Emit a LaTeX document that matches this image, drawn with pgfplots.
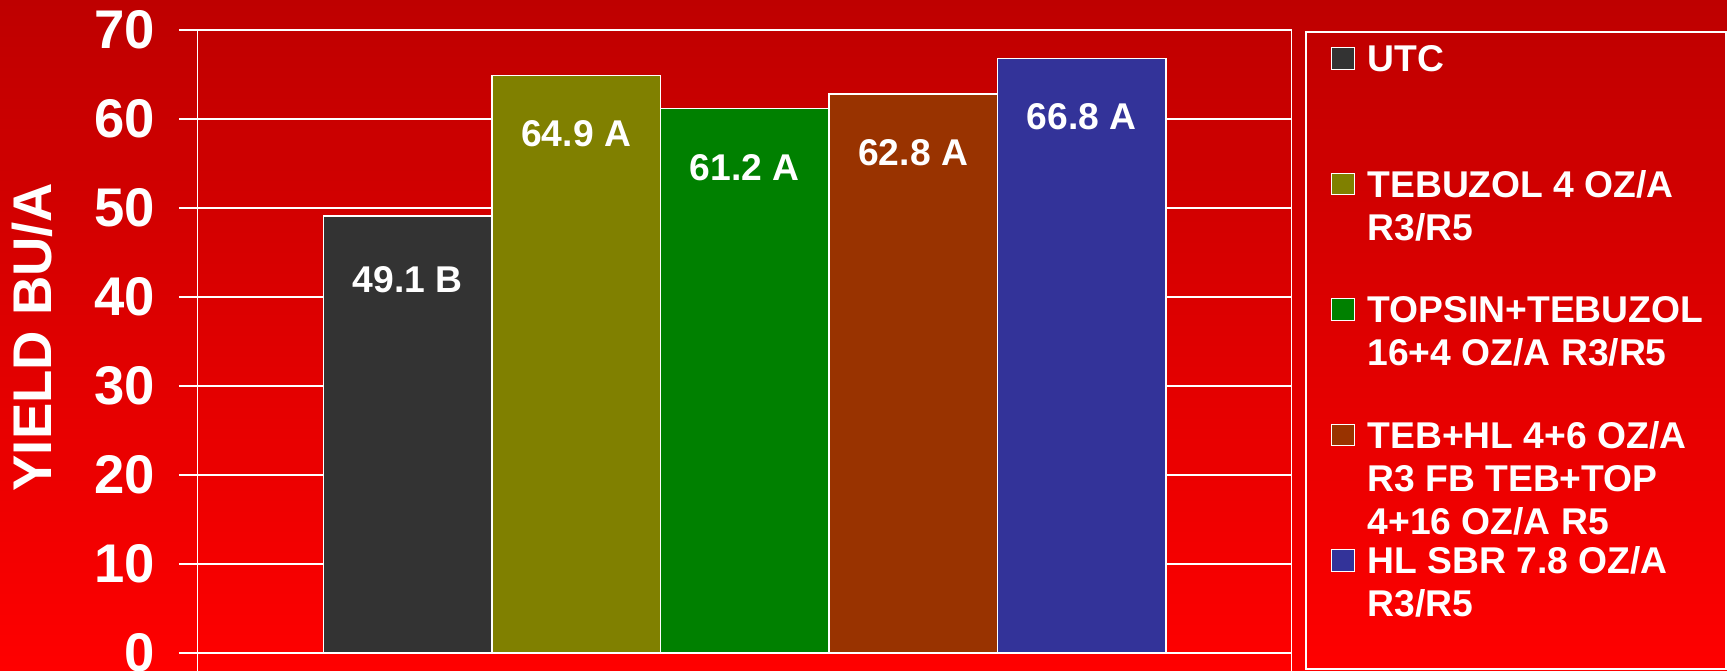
\documentclass[border=0pt]{standalone}
\usepackage{pgfplots}
\pgfplotsset{compat=1.18}
\usepackage{fontspec}
\setmainfont{Liberation Sans}

\definecolor{bgtop}{RGB}{190,0,0}
\definecolor{bgbot}{RGB}{255,0,0}
\definecolor{cutc}{HTML}{333333}
\definecolor{ctebu}{HTML}{808000}
\definecolor{ctops}{HTML}{008000}
\definecolor{cteb}{HTML}{993300}
\definecolor{chl}{HTML}{333399}

% legend text: fixed-height box, baseline on the first line
\newcommand{\lentry}[2][12.55mm]{\parbox[t][#1][t]{33.3mm}{\strut #2}}

\begin{document}
\begin{tikzpicture}
\useasboundingbox (0,0) rectangle (172.7mm,67.1mm);
\shade[top color=bgtop, bottom color=bgbot] (0,0) rectangle (172.7mm,67.1mm);
\begin{axis}[
    at={(19.77mm,-0.425mm)}, anchor=south west,
    scale only axis, width=109.38mm, height=64.525mm,
    ymin=-2.5, ymax=70, ytick={0,10,...,70},
    xmin=-1, xmax=1, xtick=\empty,
    ybar=0pt, bar width=16.85mm,
    ymajorgrids, grid style={white, line width=0.15mm},
    axis line style={white, line width=0.15mm},
    ytick pos=left, tick align=outside, major tick length=1.87mm,
    tick style={white, line width=0.15mm},
    /pgf/number format/assume math mode=true,
    yticklabel style={font=\fontsize{15.5}{18}\selectfont\bfseries, text=white,
        inner sep=0pt, xshift=-2.3mm},
    ylabel={YIELD BU/A},
    ylabel style={font=\fontsize{15.5}{18}\selectfont\bfseries, text=white,
        at={(axis description cs:-0.1516,0.524)}, anchor=center},
    point meta=explicit symbolic,
    nodes near coords,
    every node near coord/.append style={font=\fontsize{10.6}{12}\selectfont\bfseries, text=white},
    legend style={at={(axis description cs:1.0120,0.9985)}, anchor=north west,
        draw=white, line width=0.2mm, fill=none,
        inner xsep=2.5mm, inner ysep=0.95mm, column sep=1.29mm, row sep=0pt,
        text=white, font=\fontsize{10.6}{12.24}\selectfont\bfseries,
        nodes={inner sep=0pt, text depth={}, anchor=base west},
        cells={anchor=base west}},
    legend image code/.code={\draw[#1, line width=0.1mm] (0mm,0.21mm) rectangle (2.3mm,2.36mm);},
]
\addplot[fill=cutc, draw=white, line width=0.15mm,
    every node near coord/.append style={anchor=base, yshift=-7.7mm}]
    coordinates {(0,49.1) [49.1 B]};
\addplot[fill=ctebu, draw=white, line width=0.15mm,
    every node near coord/.append style={anchor=base, yshift=-7.1mm}]
    coordinates {(0,64.9) [64.9 A]};
\addplot[fill=ctops, draw=white, line width=0.15mm,
    every node near coord/.append style={anchor=base, yshift=-7.2mm}]
    coordinates {(0,61.2) [61.2 A]};
\addplot[fill=cteb, draw=white, line width=0.15mm,
    every node near coord/.append style={anchor=base, yshift=-7.1mm}]
    coordinates {(0,62.8) [62.8 A]};
\addplot[fill=chl, draw=white, line width=0.15mm,
    every node near coord/.append style={anchor=base, yshift=-7.1mm}]
    coordinates {(0,66.8) [66.8 A]};
\legend{
    \lentry{UTC},
    \lentry{\mbox{TEBUZOL 4 OZ/A}\\\mbox{R3/R5}},
    \lentry{\mbox{TOPSIN+TEBUZOL}\\\mbox{16+4 OZ/A R3/R5}},
    \lentry{\mbox{TEB+HL 4+6 OZ/A}\\\mbox{R3 FB TEB+TOP}\\\mbox{4+16 OZ/A R5}},
    \lentry[11.62mm]{\mbox{HL SBR 7.8 OZ/A}\\\mbox{R3/R5}}
}
\end{axis}
\end{tikzpicture}
\end{document}
